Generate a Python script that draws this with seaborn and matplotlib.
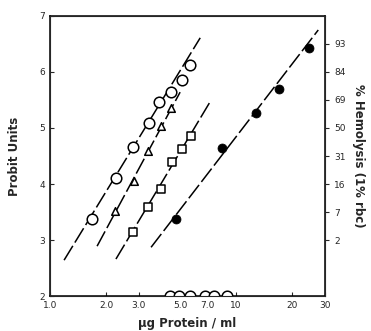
import matplotlib
matplotlib.use('AGG')
import numpy as np
import pandas as pd
import matplotlib.pyplot as plt
from matplotlib.path import Path
import seaborn as sns

sns.set_style('ticks')
plt.rcParams['font.family'] = ['DejaVu Sans']

# open circles
circ_x = [1.68, 2.26, 2.79, 3.41, 3.85, 4.47, 5.13, 5.66]
circ_y = [3.37, 4.11, 4.66, 5.09, 5.46, 5.64, 5.86, 6.12]
# open triangles
tri_x = [2.24, 2.83, 3.36, 3.95, 4.47]
tri_y = [3.52, 4.05, 4.59, 5.04, 5.36]
# open squares
sq_x = [2.79, 3.36, 3.95, 4.52, 5.13, 5.73]
sq_y = [3.14, 3.59, 3.91, 4.39, 4.63, 4.86]
# filled circles
fill_x = [4.76, 8.41, 12.8, 17.0, 24.7]
fill_y = [3.37, 4.64, 5.27, 5.70, 6.43]
# points sitting on the x axis (0 % hemolysis)
base_x = [4.42, 4.94, 5.66, 6.81, 7.62, 8.95]
base_y = [2, 2, 2, 2, 2, 2]

# fitted lines: end points (x, probit)
fit_lines = {
    'circ': ([1.19, 6.41], [2.64, 6.61]),
    'tri': ([1.79, 5.00], [2.89, 5.64]),
    'sq': ([2.26, 7.34], [2.66, 5.50]),
    'fill': ([3.49, 27.6], [2.87, 6.75]),
}

x_ticks = [1, 2, 3, 5, 7, 10, 20, 30]
x_ticklabels = ['1.0', '2.0', '3.0', '5.0', '7.0', '10', '20', '30']
probit_ticks = [2, 3, 4, 5, 6, 7]
hemo_ticks = [3, 3.5, 4, 4.5, 5, 5.5, 6, 6.5]
hemo_labels = ['2', '7', '16', '31', '50', '69', '84', '93']

fig = plt.figure(figsize=(3.71, 3.31), dpi=100)
ax = fig.add_axes([0.1348, 0.1057, 0.7412, 0.846])

for name, (lx, ly) in fit_lines.items():
    sns.lineplot(x=lx, y=ly, ax=ax, color='black', lw=1.1, sort=False)
    ax.lines[-1].set_dashes([11, 2.5])

# upper half of a circle: the 0 % points are cut by the x axis
t = np.linspace(0, np.pi, 25)
half_circle = Path(np.column_stack([np.cos(t), np.sin(t)]))

kw = dict(ax=ax, color='white', edgecolor='black', linewidth=1.1, zorder=3)
sns.scatterplot(x=circ_x, y=circ_y, marker='o', s=58, **kw)
sns.scatterplot(x=tri_x, y=tri_y, marker='^', s=30, **kw)
sns.scatterplot(x=sq_x, y=sq_y, marker='s', s=30, **kw)
sns.scatterplot(x=base_x, y=base_y, marker=half_circle, s=58, **kw)
sns.scatterplot(x=fill_x, y=fill_y, marker='o', s=42, ax=ax, color='black',
                edgecolor='black', zorder=3)

ax.set_xscale('log')
ax.set_xlim(1, 30)
ax.set_ylim(2, 7)
ax.set_xticks(x_ticks)
ax.set_xticklabels(x_ticklabels)
ax.xaxis.set_minor_locator(matplotlib.ticker.NullLocator())
ax.set_yticks(probit_ticks)
ax.tick_params(direction='in', length=3, width=0.8, labelsize=6.5)
for s in ax.spines.values():
    s.set_linewidth(1.1)
    s.set_color('black')

ax2 = ax.twinx()
ax2.set_ylim(2, 7)
ax2.set_yticks(hemo_ticks)
ax2.set_yticklabels(hemo_labels)
ax2.tick_params(direction='out', length=3, width=0.8, labelsize=6.5)

ax.set_xlabel('µg Protein / ml', fontsize=8.5, fontweight='bold', labelpad=5)
ax.set_ylabel('Probit Units', fontsize=8.5, fontweight='bold', labelpad=13)
ax2.set_ylabel('% Hemolysis (1% rbc)', fontsize=8.5, fontweight='bold',
               rotation=-90, labelpad=14)

fig.savefig('out.png', dpi=100)
